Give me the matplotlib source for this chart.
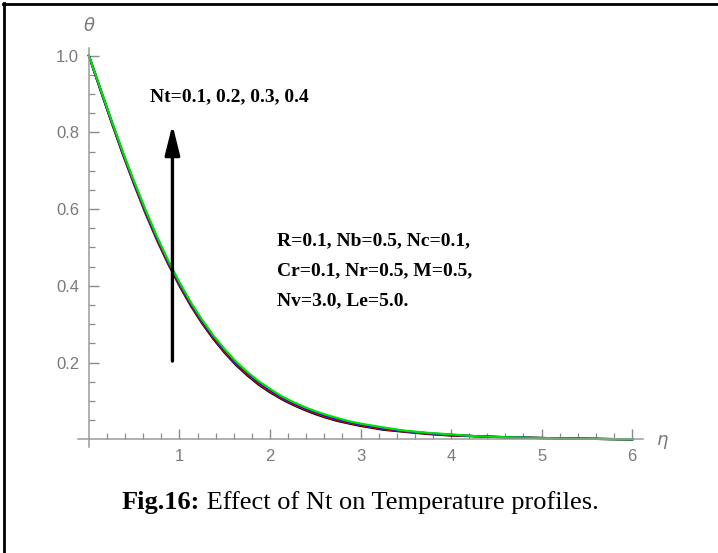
'''Effect of Nt on temperature profiles'''
import matplotlib
matplotlib.use('Agg')
import matplotlib.pyplot as plt
from matplotlib.lines import Line2D
from matplotlib.ticker import FixedLocator

# eta grid and theta profiles
eta = [0.0, 0.125, 0.25, 0.375, 0.5, 0.625, 0.75, 0.875, 1.0, 1.125, 1.25,
       1.375, 1.5, 1.625, 1.75, 1.875, 2.0, 2.125, 2.25, 2.375, 2.5, 2.625,
       2.75, 2.875, 3.0, 3.25, 3.5, 3.75, 4.0, 4.25, 4.5, 4.75, 5.0, 5.25,
       5.5, 5.75, 6.0]
theta_nt01 = [1.000, 0.9125, 0.8268, 0.743, 0.6643, 0.5895, 0.5205, 0.4575,
              0.4005, 0.3485, 0.3025, 0.2615, 0.2255, 0.1935, 0.1665, 0.1425,
              0.1225, 0.1053, 0.0903, 0.0773, 0.0658, 0.0560, 0.0476, 0.0411,
              0.0349, 0.025, 0.0192, 0.0138, 0.0098, 0.0084, 0.0062, 0.0046,
              0.0034, 0.0024, 0.0015, 0.0007, 0.0]
theta_nt02 = [1.000, 0.9135, 0.8283, 0.745, 0.6668, 0.5925, 0.5235, 0.4605,
              0.4035, 0.3515, 0.3055, 0.2645, 0.2285, 0.1965, 0.1695, 0.1455,
              0.1255, 0.1078, 0.0928, 0.0798, 0.0683, 0.0585, 0.0501, 0.0431,
              0.0369, 0.027, 0.0202, 0.0148, 0.0108, 0.0084, 0.0062, 0.0046,
              0.0034, 0.0024, 0.0015, 0.0007, 0.0]
theta_nt03 = [1.000, 0.9145, 0.8298, 0.747, 0.6693, 0.5955, 0.5265, 0.4635,
              0.4065, 0.3545, 0.3085, 0.2675, 0.2315, 0.1995, 0.1725, 0.1485,
              0.1285, 0.1103, 0.0953, 0.0823, 0.0708, 0.0610, 0.0526, 0.0451,
              0.0389, 0.029, 0.0212, 0.0158, 0.0118, 0.0084, 0.0062, 0.0046,
              0.0034, 0.0024, 0.0015, 0.0007, 0.0]
theta_nt04 = [1.000, 0.9155, 0.8313, 0.749, 0.6718, 0.5985, 0.5295, 0.4665,
              0.4095, 0.3575, 0.3115, 0.2705, 0.2345, 0.2025, 0.1755, 0.1515,
              0.1315, 0.1128, 0.0978, 0.0848, 0.0733, 0.0635, 0.0551, 0.0471,
              0.0409, 0.031, 0.0222, 0.0168, 0.0128, 0.0084, 0.0062, 0.0046,
              0.0034, 0.0024, 0.0015, 0.0007, 0.0]
curves = [theta_nt01, theta_nt02, theta_nt03, theta_nt04]
colors = ['black', 'red', 'blue', '#00e000']

x_major = [1, 2, 3, 4, 5, 6]
y_major = [0.2, 0.4, 0.6, 0.8, 1.0]
y_labels = ['0.2', '0.4', '0.6', '0.8', '1.0']

W, H = 718, 553
fig = plt.figure(figsize=(W / 100, H / 100), dpi=100)
ax = fig.add_axes([78 / W, 1 - 447 / H, 565 / W, 399 / H])

for vals, col in zip(curves, colors):
    ax.plot(eta, vals, color=col, lw=1.6)

ax.set_xlim(-0.12, 6.12)
ax.set_ylim(-0.02, 1.02)

gray = '#8a8a8a'
for side in ['top', 'right']:
    ax.spines[side].set_visible(False)
for side in ['left', 'bottom']:
    ax.spines[side].set_position(('data', 0))
    ax.spines[side].set_color('#9a9a9a')
    ax.spines[side].set_linewidth(1.1)

ax.set_xticks(x_major)
ax.set_xticklabels([str(v) for v in x_major])
ax.set_yticks(y_major)
ax.set_yticklabels(y_labels)
ax.xaxis.set_minor_locator(FixedLocator(
    [i * 0.2 for i in range(1, 31) if i % 5 != 0]))
ax.yaxis.set_minor_locator(FixedLocator(
    [i * 0.05 for i in range(1, 21) if i % 4 != 0]))
ax.tick_params(which='major', direction='in', length=7, width=1,
               color=gray, labelcolor='#7a7a7a', labelsize=12)
ax.tick_params(which='minor', direction='in', length=4, width=0.9,
               color=gray)
ax.tick_params(axis='x', which='major', pad=7)
ax.tick_params(axis='y', which='major', pad=7)
for lab in ax.get_xticklabels() + ax.get_yticklabels():
    lab.set_family(['Liberation Sans Narrow', 'Liberation Sans'])

# axis names
fig.text(89 / W, 1 - 26 / H, r'$\theta$', color='#7a7a7a', fontsize=13,
         ha='center', va='center')
fig.text(662 / W, 1 - 442 / H, r'$\eta$', color='#7a7a7a', fontsize=13,
         ha='center', va='center')

# arrow showing increasing Nt
ax.annotate('', xy=(0.923, 0.82), xytext=(0.923, 0.204),
            arrowprops=dict(arrowstyle='-|>,head_length=1.8,head_width=0.45',
                            mutation_scale=10, lw=2.4, color='black',
                            shrinkA=0, shrinkB=0), zorder=5)

serif = 'Liberation Serif'
fig.text(150 / W, 1 - 97 / H, 'Nt=0.1, 0.2, 0.3, 0.4', family=serif,
         weight='bold', fontsize=14, va='center')
params = ['R=0.1, Nb=0.5, Nc=0.1,', 'Cr=0.1, Nr=0.5, M=0.5,',
          'Nv=3.0, Le=5.0.']
for i, line in enumerate(params):
    fig.text(277 / W, 1 - (241 + 30 * i) / H, line, family=serif,
             weight='bold', fontsize=14, va='center')

# caption
cap1 = fig.text(122 / W, 1 - 503 / H, 'Fig.16:', family=serif,
                weight='bold', fontsize=19, va='center')
fig.canvas.draw()
bb = cap1.get_window_extent()
fig.text(bb.x1 / W, 1 - 503 / H, ' Effect of Nt on Temperature profiles.',
         family=serif, fontsize=19, va='center')

# frame lines at left and top edge
fig.add_artist(Line2D([3.5 / W, 3.5 / W], [0, 1 - 3 / H], color='black',
                      lw=2, transform=fig.transFigure))
fig.add_artist(Line2D([3 / W, 1], [1 - 3.5 / H, 1 - 3.5 / H], color='black',
                      lw=2, transform=fig.transFigure))

fig.savefig('out.png', dpi=100)
